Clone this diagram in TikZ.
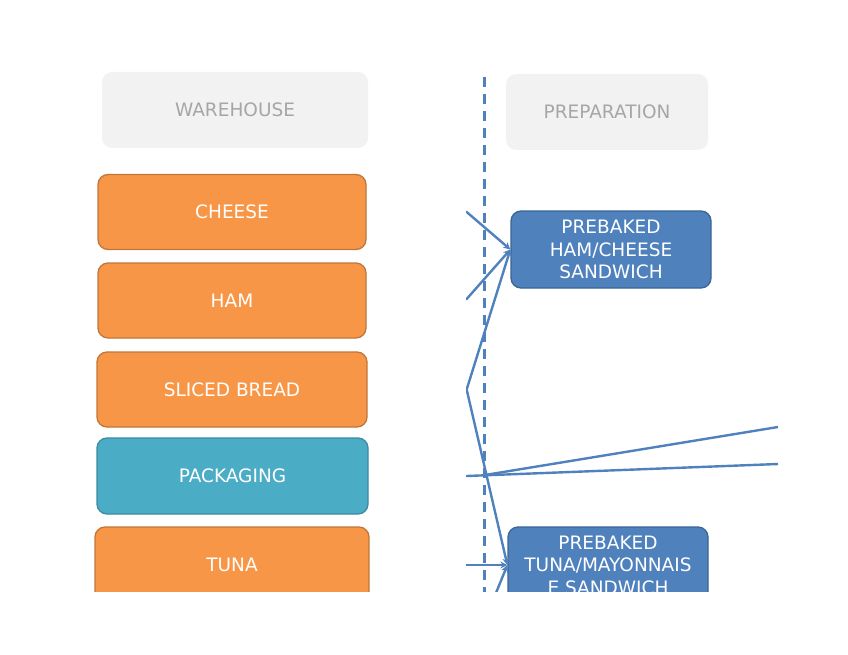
\documentclass[tikz,border=0pt]{standalone}
\usepackage{fontspec}
\setmainfont{DejaVu Sans}
\usetikzlibrary{arrows.meta}
\definecolor{orangefill}{HTML}{F79646}
\definecolor{orangeline}{HTML}{C0763A}
\definecolor{tealfill}{HTML}{4BACC6}
\definecolor{tealline}{HTML}{3C8BA0}
\definecolor{bluefill}{HTML}{4F81BD}
\definecolor{blueline}{HTML}{3B6594}
\definecolor{hdrfill}{HTML}{F2F2F2}
\definecolor{hdrtext}{HTML}{A6A6A6}
\begin{document}
\begin{tikzpicture}[x=1pt,y=-1pt,
  font=\fontsize{18.5}{22.5}\selectfont,
  box/.style={rounded corners=10pt, inner sep=0pt, align=center, text=white, line width=1.3pt},
  hdrbox/.style={box, fill=hdrfill, text=hdrtext, minimum height=76pt},
  ingbox/.style={box, fill=orangefill, draw=orangeline, minimum width=268pt, minimum height=75pt},
  packbox/.style={box, fill=tealfill, draw=tealline, minimum width=271pt, minimum height=76pt},
  prodbox/.style={box, fill=bluefill, draw=blueline, minimum width=200pt, minimum height=77pt},
  divider/.style={draw=bluefill, line width=3pt, dash pattern=on 10pt off 7pt},
  conn/.style={draw=bluefill, line width=2.4pt, -{Stealth[length=7pt,width=7pt]}},
  plainconn/.style={draw=bluefill, line width=2.4pt}
]
\useasboundingbox (0,0) rectangle (848,655);
\begin{scope}
\clip (0,0) rectangle (848,591);
% headers
\node[hdrbox, minimum width=266pt] (wh) at (235,110) {WAREHOUSE};
\node[hdrbox, minimum width=202pt] (prep) at (607,112) {PREPARATION};
% warehouse items
\node[ingbox] (cheese) at (232,212) {CHEESE};
\node[ingbox] (ham) at (232,300.5) {HAM};
\node[ingbox, minimum width=270pt] (bread) at (232,389.5) {SLICED BREAD};
\node[packbox] (pack) at (232.5,476) {PACKAGING};
\node[ingbox, minimum width=274pt, minimum height=76pt] (tuna) at (232,565) {TUNA};
% products
\node[prodbox] (hc) at (611,249.5) {PREBAKED\\HAM/CHEESE\\SANDWICH};
\node[prodbox, minimum height=76pt] (ts) at (608,565) {PREBAKED\\TUNA/MAYONNAIS\\E SANDWICH};
% divider
\coordinate (dtop) at (484,77);
\coordinate (dbot) at (484,600);
\draw[divider] (dtop) -- (dbot);
% connectors
\begin{scope}
\clip (466,0) rectangle (778,600);
\coordinate (pr1) at (778,464);
\coordinate (pr2) at (778,427);
\coordinate (pj) at (485,475);
\coordinate (tb) at (485,620);
\draw[conn] (cheese.east) -- ++(100,0) -- (hc.west);
\draw[conn] (ham.east) -- ++(100,-1.5) -- (hc.west);
\draw[conn] (bread.east) -- ++(99,0) coordinate (bj) -- (hc.west);
\draw[conn] (bj) -- (ts.west);
\draw[plainconn] (pack.east) -- ++(98,0) -- (pr1);
\draw[plainconn] (pj) -- (pr2);
\draw[conn] (tuna.east) -- ++(97,0) -- (ts.west);
\draw[conn] (tb) -- (ts.west);
\end{scope}
\end{scope}
\end{tikzpicture}
\end{document}
